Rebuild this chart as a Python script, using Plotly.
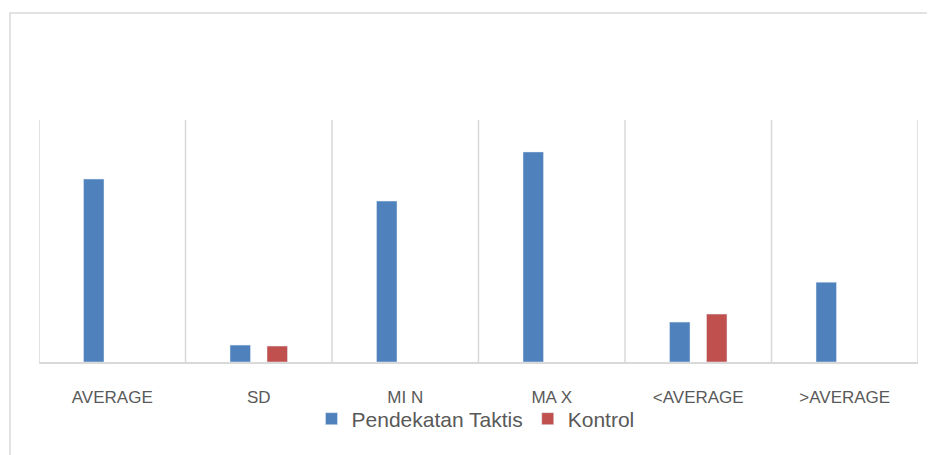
import plotly.graph_objects as go

categories = ["AVERAGE", "SD", "MI N", "MA X", "<AVERAGE", ">AVERAGE"]
taktis = [75.6, 7.0, 66.5, 86.8, 16.5, 33.0]
kontrol = [None, 6.6, None, None, 19.8, None]
series_names = ["Pendekatan Taktis", "Kontrol"]
colors = ["#4F81BD", "#C0504D"]

fig = go.Figure()
fig.add_trace(go.Bar(x=categories, y=taktis, name=series_names[0], marker_color=colors[0]))
fig.add_trace(go.Bar(x=categories, y=kontrol, name=series_names[1], marker_color=colors[1]))

grid_color = "#D9D9D9"
shapes = []
for i in range(len(categories) + 1):
    shapes.append(dict(type="line", xref="x", yref="paper", x0=i - 0.5, x1=i - 0.5,
                       y0=0, y1=1, line=dict(color=grid_color, width=1.5), layer="below"))
# outer chart border
shapes.append(dict(type="rect", xref="paper", yref="paper",
                   x0=-0.033, x1=1.05, y0=-0.45, y1=1.442,
                   line=dict(color=grid_color, width=1.5)))

fig.update_layout(
    width=927, height=447,
    margin=dict(l=31, r=17, t=112, b=93),
    paper_bgcolor="white", plot_bgcolor="white",
    barmode="group", bargap=0.495, bargroupgap=0.446,
    font=dict(family="Liberation Sans, Arial, sans-serif", color="#595959"),
    showlegend=True,
    legend=dict(orientation="h", x=0.4966, xanchor="center", y=-0.2355, yanchor="middle",
                font=dict(size=21, color="#595959"), itemwidth=30, tracegroupgap=0,
                bgcolor="rgba(0,0,0,0)"),
    shapes=shapes,
    xaxis=dict(showline=True, linecolor=grid_color, linewidth=2, showgrid=False,
               ticks="", tickfont=dict(size=17, color="#595959"), ticklabelstandoff=19,
               range=[-0.5, 5.5], fixedrange=True),
    yaxis=dict(range=[0, 100], showgrid=False, showticklabels=False, zeroline=False,
               showline=False, fixedrange=True),
)

fig.write_html("out.html")
